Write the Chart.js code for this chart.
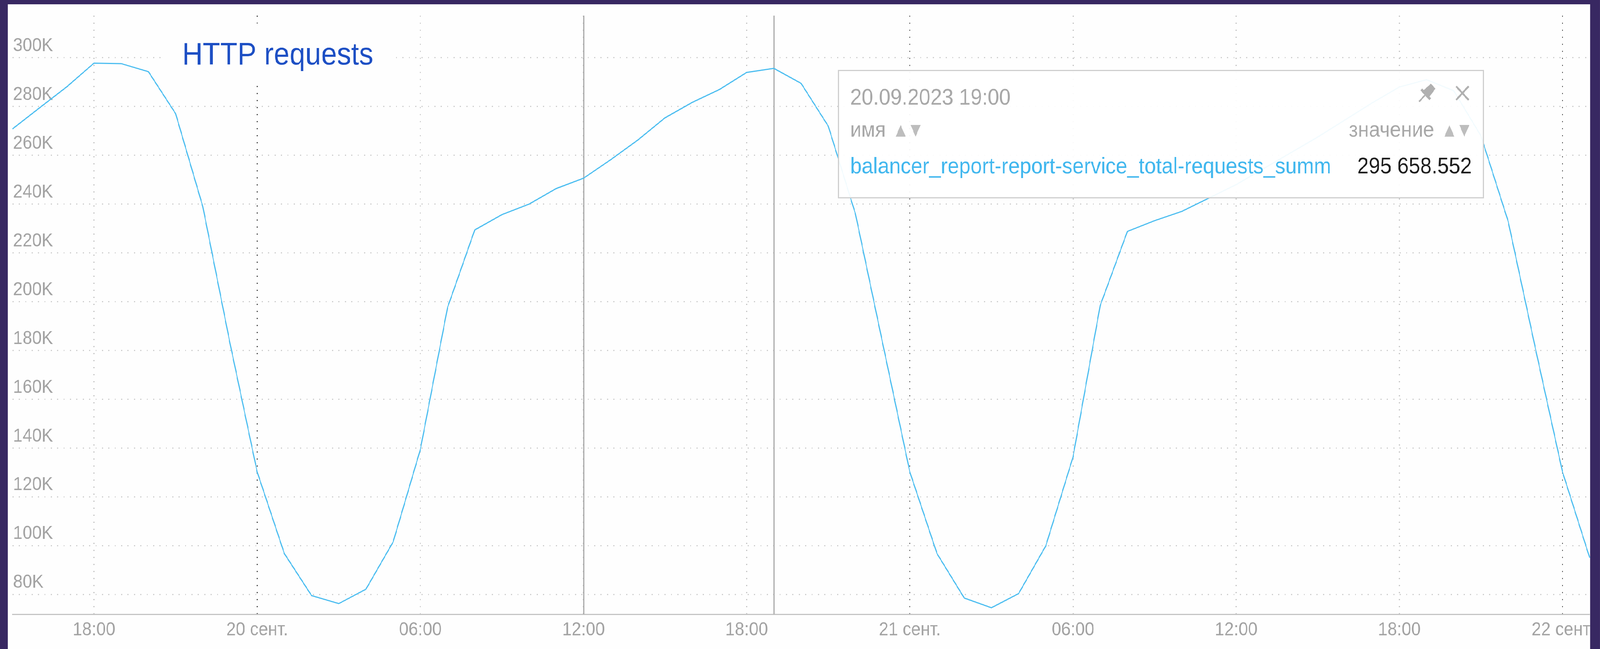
<!DOCTYPE html>
<html lang="ru">
<head>
<meta charset="utf-8">
<title>HTTP requests</title>
<script src="https://cdn.jsdelivr.net/npm/chart.js@4.4.0/dist/chart.umd.min.js"></script>
<style>
  html, body { margin: 0; padding: 0; width: 100%; height: 100%; background: #382862; overflow: hidden; }
  #escena { position: absolute; left: 0; top: 0; width: 4505px; height: 1662px; transform-origin: 0 0; background: #382862; }
  #marco { position: absolute; left: 22px; top: 11px; width: 4455px; height: 1651px; background: #fefefe; overflow: hidden; }
  #grafico { display: block; }
</style>
</head>
<body>
<div id="escena"><div id="marco"><canvas id="grafico" width="4455" height="1651"></canvas></div></div>
<script>
// Horas (una por punto)
const horas = [
  '19.09 15:00', '19.09 16:00', '19.09 17:00', '19.09 18:00', '19.09 19:00', '19.09 20:00',
  '19.09 21:00', '19.09 22:00', '19.09 23:00',
  '20.09 00:00', '20.09 01:00', '20.09 02:00', '20.09 03:00', '20.09 04:00', '20.09 05:00',
  '20.09 06:00', '20.09 07:00', '20.09 08:00', '20.09 09:00', '20.09 10:00', '20.09 11:00',
  '20.09 12:00', '20.09 13:00', '20.09 14:00', '20.09 15:00', '20.09 16:00', '20.09 17:00',
  '20.09 18:00', '20.09 19:00', '20.09 20:00', '20.09 21:00', '20.09 22:00', '20.09 23:00',
  '21.09 00:00', '21.09 01:00', '21.09 02:00', '21.09 03:00', '21.09 04:00', '21.09 05:00',
  '21.09 06:00', '21.09 07:00', '21.09 08:00', '21.09 09:00', '21.09 10:00', '21.09 11:00',
  '21.09 12:00', '21.09 13:00', '21.09 14:00', '21.09 15:00', '21.09 16:00', '21.09 17:00',
  '21.09 18:00', '21.09 19:00', '21.09 20:00', '21.09 21:00', '21.09 22:00', '21.09 23:00',
  '22.09 00:00', '22.09 01:00'
];

// Peticiones HTTP por hora
const peticiones = [
  270800, 279500, 288100, 297800, 297600, 294300, 277100, 239000, 183000,
  130200, 96700, 79500, 76200, 82100, 101500,
  139400, 197600, 229400, 235700, 240000, 246400,
  250600, 258200, 266300, 275400, 281700, 287000,
  294000, 295658.552, 289500, 272000, 236000, 183000,
  130200, 96700, 78500, 74500, 80300, 99900,
  136300, 198400, 228800, 233200, 237000, 242500,
  248000, 254500, 261000, 267500, 274500, 281500,
  288000, 291000, 286500, 268000, 233000, 181000,
  130200, 95000
];

// Marcas de los ejes
const marcasX = ['19.09 18:00', '20.09 00:00', '20.09 06:00', '20.09 12:00', '20.09 18:00',
                 '21.09 00:00', '21.09 06:00', '21.09 12:00', '21.09 18:00', '22.09 00:00'];
const etiquetasX = ['18:00', '20 сент.', '06:00', '12:00', '18:00',
                    '21 сент.', '06:00', '12:00', '18:00', '22 сент.'];
const ticksY = [80000, 100000, 120000, 140000, 160000, 180000, 200000, 220000, 240000, 260000, 280000, 300000];

const titulo = 'HTTP requests';
const nombreSerie = 'balancer_report-report-service_total-requests_summ';
const lineasFijas = ['20.09 12:00', '20.09 19:00'];
const horaTooltip = '20.09 19:00';

const fuente = "'Liberation Sans', Arial, 'DejaVu Sans', sans-serif";

document.addEventListener("DOMContentLoaded", function() {

    // La escena se dibuja a 4505x1662 y se ajusta a toda la ventana
    const kx = window.innerWidth / 4505;
    const ky = window.innerHeight / 1662;
    document.getElementById('escena').style.transform = 'scale(' + kx + ',' + ky + ')';

    const lienzo = document.getElementById('grafico');

    function triangulo(ctx, x, y, arriba) {
        ctx.beginPath();
        if (arriba) {
            ctx.moveTo(x, y);
            ctx.lineTo(x + 28, y);
            ctx.lineTo(x + 14, y - 30);
        } else {
            ctx.moveTo(x, y - 30);
            ctx.lineTo(x + 28, y - 30);
            ctx.lineTo(x + 14, y);
        }
        ctx.closePath();
        ctx.fill();
    }

    // Título, líneas fijadas y la ventana del valor
    const capaExtra = {
        id: 'capaExtra',
        beforeDatasetsDraw(chart) {
            const { ctx, chartArea, scales: { x } } = chart;
            ctx.save();
            ctx.fillStyle = '#fefefe';
            ctx.fillRect(433, 49, 645, 145);
            ctx.fillStyle = '#1d4fc4';
            ctx.font = '80px ' + fuente;
            ctx.textBaseline = 'alphabetic';
            ctx.fillText(titulo, 491, 154);

            ctx.strokeStyle = '#ababab';
            ctx.lineWidth = 3;
            lineasFijas.forEach(function(h) {
                const px = Math.round(x.getPixelForValue(horas.indexOf(h))) + 0.5;
                ctx.beginPath();
                ctx.moveTo(px, chartArea.top);
                ctx.lineTo(px, chartArea.bottom);
                ctx.stroke();
            });
            ctx.restore();
        },
        afterDraw(chart) {
            const ctx = chart.ctx;
            const i = horas.indexOf(horaTooltip);
            const [dia, hora] = horaTooltip.split(' ');
            const [ent, dec] = peticiones[i].toFixed(3).split('.');
            const valor = ent.replace(/\B(?=(\d{3})+(?!\d))/g, ' ') + '.' + dec;

            ctx.save();
            // caja
            ctx.fillStyle = 'rgba(255,255,255,0.93)';
            ctx.fillRect(2338, 169, 1816, 326);
            ctx.strokeStyle = '#cfcfcf';
            ctx.lineWidth = 3;
            ctx.strokeRect(2338.5, 169.5, 1816, 326);

            ctx.textBaseline = 'alphabetic';
            ctx.font = '58px ' + fuente;
            ctx.fillStyle = '#a8a8a8';
            ctx.textAlign = 'left';
            ctx.fillText(dia + '.2023 ' + hora, 2372, 257);

            // cabecera
            ctx.font = '56px ' + fuente;
            ctx.fillText('имя', 2372, 339);
            ctx.textAlign = 'right';
            ctx.fillText('значение', 4016, 339);
            ctx.fillStyle = '#bdbdbd';
            triangulo(ctx, 2500, 339, true);
            triangulo(ctx, 2542, 339, false);
            triangulo(ctx, 4045, 339, true);
            triangulo(ctx, 4087, 339, false);

            // fila de la serie
            ctx.font = '58px ' + fuente;
            ctx.textAlign = 'left';
            ctx.fillStyle = '#41b7ee';
            ctx.fillText(nombreSerie, 2372, 433);
            ctx.textAlign = 'right';
            ctx.fillStyle = '#1e1e1e';
            ctx.fillText(valor, 4122, 433);

            // iconos: cerrar y chincheta
            ctx.strokeStyle = '#b0b0b0';
            ctx.fillStyle = '#b0b0b0';
            ctx.lineWidth = 5;
            ctx.beginPath();
            ctx.moveTo(4078, 210);
            ctx.lineTo(4113, 245);
            ctx.moveTo(4113, 210);
            ctx.lineTo(4078, 245);
            ctx.stroke();

            ctx.translate(3995, 228);
            ctx.rotate(Math.PI / 4);
            ctx.beginPath();
            ctx.moveTo(-9, -26);
            ctx.lineTo(9, -26);
            ctx.lineTo(12, 2);
            ctx.lineTo(-12, 2);
            ctx.closePath();
            ctx.fill();
            ctx.fillRect(-18, 0, 36, 7);
            ctx.lineWidth = 4;
            ctx.beginPath();
            ctx.moveTo(0, 7);
            ctx.lineTo(0, 30);
            ctx.stroke();
            ctx.restore();
        }
    };

    new Chart(lienzo.getContext('2d'), {
        type: 'line',
        data: {
            labels: horas,
            datasets: [{
                label: nombreSerie,
                data: peticiones,
                borderColor: '#4bbdf0',
                borderWidth: 3,
                pointRadius: 0,
                tension: 0,
                fill: false
            }]
        },
        options: {
            responsive: false,
            devicePixelRatio: 1,
            animation: false,
            events: [],
            layout: { padding: { left: 13, right: 1, top: 29, bottom: 0 } },
            plugins: {
                legend: { display: false },
                tooltip: { enabled: false }
            },
            scales: {
                x: {
                    type: 'category',
                    afterBuildTicks: function(scale) {
                        scale.ticks = scale.ticks.filter(t => marcasX.includes(horas[t.value]));
                    },
                    afterFit: function(scale) {
                        // la última etiqueta puede salirse, como en el original
                        scale.height = 89;
                        scale.paddingLeft = 0;
                        scale.paddingRight = 0;
                    },
                    grid: {
                        drawTicks: false,
                        lineWidth: 3,
                        color: function(c) {
                            if (!c.tick) return '#c4c4c4';
                            return horas[c.tick.value].endsWith('00:00') ? '#505050' : '#c4c4c4';
                        }
                    },
                    border: { display: true, color: '#c4c4c4', width: 3, dash: [3, 15] },
                    ticks: {
                        autoSkip: false,
                        maxRotation: 0,
                        minRotation: 0,
                        padding: 12,
                        color: '#a3a3a3',
                        font: { family: fuente, size: 48 },
                        callback: function(v) { return etiquetasX[marcasX.indexOf(horas[v])]; }
                    }
                },
                y: {
                    min: 71840,
                    max: 317280,
                    afterBuildTicks: function(scale) {
                        scale.ticks = ticksY.map(v => ({ value: v }));
                    },
                    afterFit: function(scale) {
                        scale.width = 0;
                        scale.paddingTop = 0;
                        scale.paddingBottom = 0;
                    },
                    grid: { drawTicks: false, lineWidth: 3, color: '#cdcdcd' },
                    border: { display: false, dash: [3, 15] },
                    ticks: {
                        mirror: true,
                        padding: 2,
                        labelOffset: -30,
                        color: '#a3a3a3',
                        font: { family: fuente, size: 48 },
                        callback: function(v) { return (v / 1000) + 'K'; }
                    }
                }
            }
        },
        plugins: [capaExtra]
    });
});
</script>
</body>
</html>
